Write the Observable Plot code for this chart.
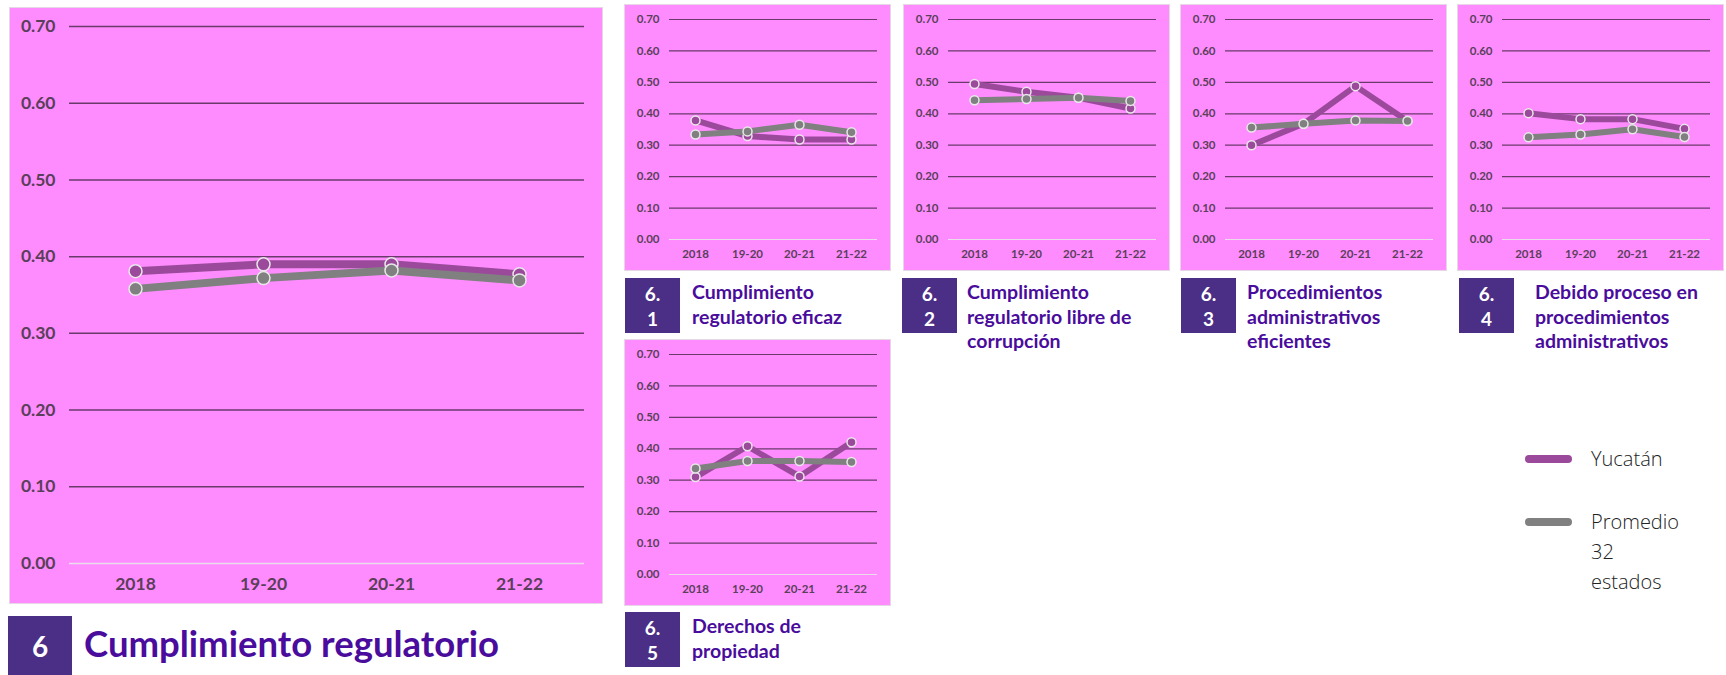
<!DOCTYPE html>
<html>
<head>
<meta charset="utf-8">
<script src="https://cdn.jsdelivr.net/npm/d3@7"></script>
<script src="https://cdn.jsdelivr.net/npm/@observablehq/plot@0.6"></script>
<style>
  html, body { margin: 0; padding: 0; background: #ffffff; }
  #root { position: relative; width: 1726px; height: 675px; overflow: hidden; font-family: Lato, sans-serif; }
  .panel { position: absolute; }
  .panel svg { display: block; outline: 1px solid #e6d6e6; }
  .numbox { position: absolute; background: #4b2e85; color: #ffffff; font-weight: 700; text-align: center; display: flex; flex-direction: column; justify-content: center; }
  .ttl { position: absolute; color: #4a0c9c; font-weight: 700; }
  .leg-sw { position: absolute; height: 8px; border-radius: 4px; }
  .leg-tx { position: absolute; font-family: "Open Sans", sans-serif; font-weight: 300; color: #222; font-size: 20px; line-height: 30px; }
</style>
</head>
<body>
<div id="root"></div>
<script>
// ---- data ----
const periods = ["2018", "19-20", "20-21", "21-22"];
const yTicks = [0, 0.1, 0.2, 0.3, 0.4, 0.5, 0.6, 0.7];
const seriesNames = ["Yucatán", "Promedio 32 estados"];

const yuc6   = [0.381, 0.390, 0.390, 0.377];
const prom6  = [0.358, 0.372, 0.382, 0.369];
const yuc61  = [0.379, 0.329, 0.318, 0.318];
const prom61 = [0.334, 0.344, 0.365, 0.341];
const yuc62  = [0.495, 0.470, 0.451, 0.417];
const prom62 = [0.443, 0.447, 0.451, 0.441];
const yuc63  = [0.300, 0.368, 0.488, 0.377];
const prom63 = [0.356, 0.368, 0.379, 0.377];
const yuc64  = [0.402, 0.383, 0.383, 0.352];
const prom64 = [0.325, 0.334, 0.351, 0.326];
const yuc65  = [0.310, 0.408, 0.312, 0.421];
const prom65 = [0.337, 0.361, 0.361, 0.358];

const mainTitle = {num: "6", text: "Cumplimiento regulatorio"};
const subTitles = [
  {num: ["6.", "1"], lines: ["Cumplimiento", "regulatorio eficaz"]},
  {num: ["6.", "2"], lines: ["Cumplimiento", "regulatorio libre de", "corrupción"]},
  {num: ["6.", "3"], lines: ["Procedimientos", "administrativos", "eficientes"]},
  {num: ["6.", "4"], lines: ["Debido proceso en", "procedimientos", "administrativos"]},
  {num: ["6.", "5"], lines: ["Derechos de", "propiedad"]}
];

// ---- style ----
const PINK = "#ff8cff";
const YUC = "#9b4a9b";
const PROM = "#808080";
const GRID = "#6a3a6a";
const TICKTXT = "#5a3f5a";

const root = document.getElementById("root");

function toRows(vals) { return periods.map((p, i) => ({period: p, value: vals[i]})); }

function chart(yuc, prom, o) {
  return Plot.plot({
    width: o.w, height: o.h,
    marginLeft: o.ml, marginRight: o.mr, marginTop: o.mt, marginBottom: o.mb,
    style: {background: PINK, fontFamily: "Lato, sans-serif", fontWeight: 700, fontSize: o.fs + "px", color: TICKTXT},
    x: {type: "point", domain: periods, padding: 0.5, label: null},
    y: {domain: [0, 0.7], label: null},
    marks: [
      Plot.ruleY(yTicks.filter(d => d > 0), {stroke: GRID, strokeWidth: o.gw}),
      Plot.ruleY([0], {stroke: "#eadcea", strokeWidth: o.gw}),
      Plot.axisY({ticks: yTicks, tickFormat: d3.format(".2f"), tickSize: 0, tickPadding: o.tpy, fill: TICKTXT, label: null}),
      Plot.axisX({tickSize: 0, tickPadding: o.tpx, fill: TICKTXT, label: null}),
      Plot.lineY(toRows(yuc), {x: "period", y: "value", stroke: YUC, strokeWidth: o.lw}),
      Plot.dot(toRows(yuc), {x: "period", y: "value", fill: YUC, stroke: "#e8e8e8", strokeWidth: 1.5, r: o.r}),
      Plot.lineY(toRows(prom), {x: "period", y: "value", stroke: PROM, strokeWidth: o.lw}),
      Plot.dot(toRows(prom), {x: "period", y: "value", fill: PROM, stroke: "#e8e8e8", strokeWidth: 1.5, r: o.r})
    ]
  });
}

function place(node, left, top) {
  const d = document.createElement("div");
  d.className = "panel";
  d.style.left = left + "px";
  d.style.top = top + "px";
  d.appendChild(node);
  root.appendChild(d);
}

// main chart
place(chart(yuc6, prom6, {w: 592, h: 595, ml: 59, mr: 18, mt: 18, mb: 40, fs: 17.5, gw: 1.5, lw: 8, r: 6.5, tpy: 14, tpx: 14}), 10, 8);

// small charts
const smallOpt = {w: 265, h: 265, ml: 44, mr: 13, mt: 14, mb: 31, fs: 11.5, gw: 1.2, lw: 6, r: 4.5, tpy: 10, tpx: 10};
place(chart(yuc61, prom61, smallOpt), 625, 5);
place(chart(yuc62, prom62, smallOpt), 904, 5);
place(chart(yuc63, prom63, smallOpt), 1181, 5);
place(chart(yuc64, prom64, smallOpt), 1458, 5);
place(chart(yuc65, prom65, smallOpt), 625, 340);

// titles
function numBox(lines, left, top, w, h, fs, lh) {
  const b = document.createElement("div");
  b.className = "numbox";
  Object.assign(b.style, {left: left + "px", top: top + "px", width: w + "px", height: h + "px", fontSize: fs + "px", lineHeight: lh + "px"});
  lines.forEach(t => { const s = document.createElement("div"); s.textContent = t; b.appendChild(s); });
  root.appendChild(b);
}
function titleText(lines, left, top, fs, lh) {
  const t = document.createElement("div");
  t.className = "ttl";
  Object.assign(t.style, {left: left + "px", top: top + "px", fontSize: fs + "px", lineHeight: lh + "px"});
  lines.forEach(s => { const d = document.createElement("div"); d.textContent = s; t.appendChild(d); });
  root.appendChild(t);
}

numBox([mainTitle.num], 8, 616, 64, 59, 28, 32);
titleText([mainTitle.text], 84, 620, 36.5, 46);

const subPos = [[625, 278, 692], [902, 278, 967], [1181, 278, 1247], [1459, 278, 1535], [625, 612, 692]];
subTitles.forEach((s, i) => {
  const [bx, by, tx] = subPos[i];
  numBox(s.num, bx, by, 55, 55, 19, 25);
  titleText(s.lines, tx, by + 2, 19.5, 24.5);
});

// legend
const legItems = [
  {name: seriesNames[0], color: YUC, y: 459, lines: ["Yucatán"]},
  {name: seriesNames[1], color: PROM, y: 522, lines: ["Promedio", "32", "estados"]}
];
legItems.forEach(it => {
  const sw = document.createElement("div");
  sw.className = "leg-sw";
  Object.assign(sw.style, {left: "1525px", top: (it.y - 4) + "px", width: "47px", background: it.color});
  root.appendChild(sw);
  const tx = document.createElement("div");
  tx.className = "leg-tx";
  Object.assign(tx.style, {left: "1591px", top: (it.y - 15) + "px"});
  it.lines.forEach(l => { const d = document.createElement("div"); d.textContent = l; tx.appendChild(d); });
  root.appendChild(tx);
});
</script>
</body>
</html>
